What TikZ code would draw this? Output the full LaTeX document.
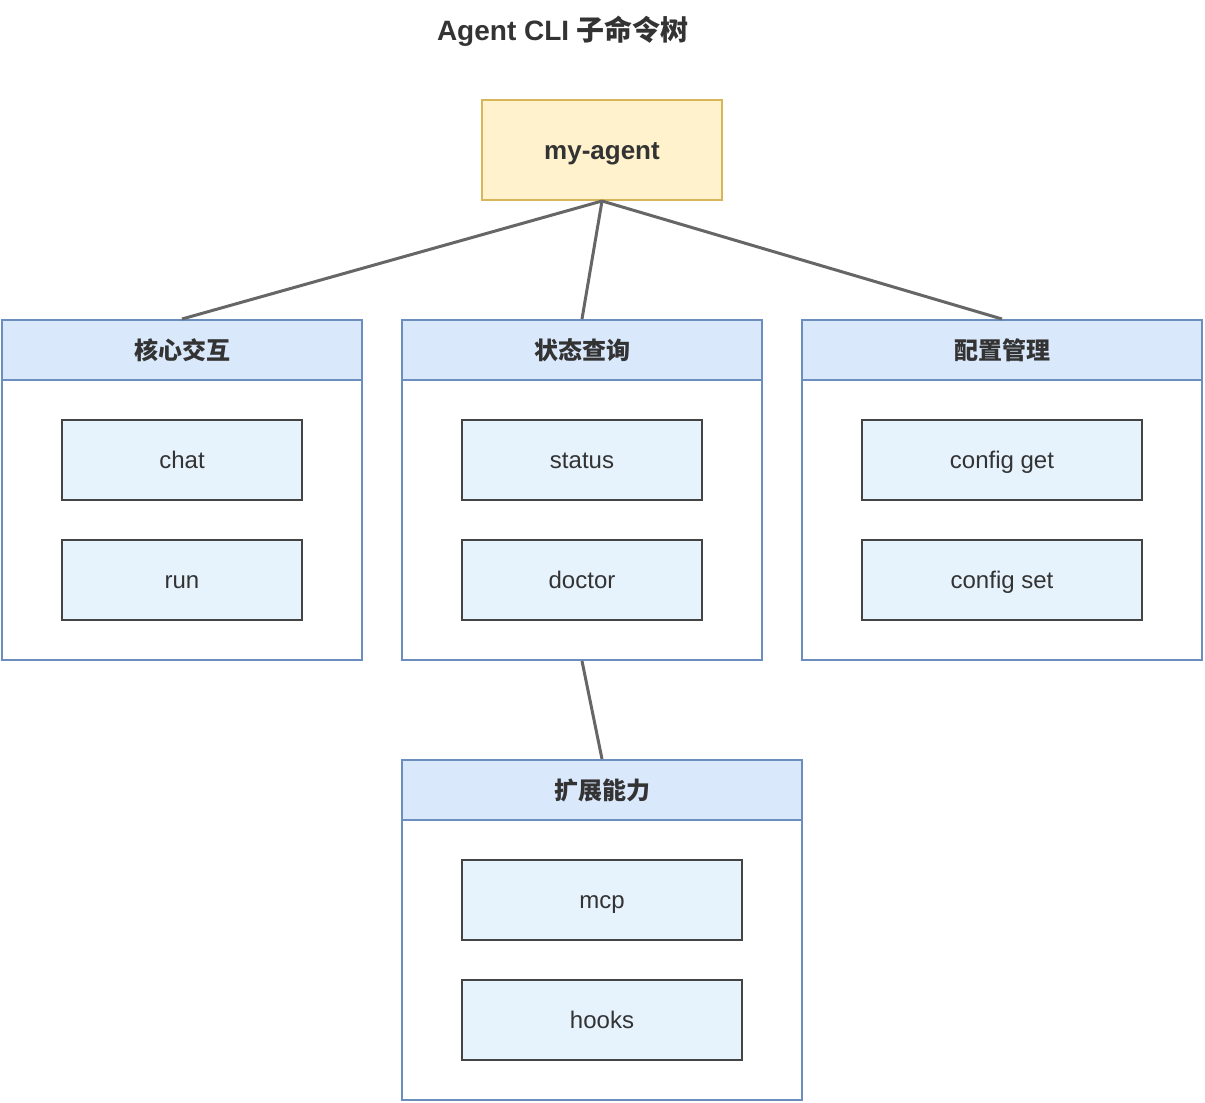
\documentclass[tikz,border=0pt]{standalone}
\usepackage{fontspec}
\setmainfont{Liberation Sans}
\newfontfamily\cjk{Noto Sans CJK SC}
\usetikzlibrary{positioning}
\definecolor{rootfill}{HTML}{FFF2CC}
\definecolor{rootline}{HTML}{D6B656}
\definecolor{lanefill}{HTML}{DAE8FC}
\definecolor{laneline}{HTML}{6C8EBF}
\definecolor{cmdfill}{HTML}{E6F2FC}
\definecolor{cmdline}{HTML}{444444}
\definecolor{edgegray}{HTML}{666666}
\definecolor{txt}{HTML}{333333}

\begin{document}
\begin{tikzpicture}[
  x=1pt, y=-1pt,
  root/.style={draw=rootline, fill=rootfill, line width=2pt, inner sep=0pt,
               minimum width=240pt, minimum height=100pt, text=txt,
               text height=18.5pt, text depth=0pt,
               font=\fontsize{26}{30}\selectfont\bfseries},
  lane/.style={draw=laneline, fill=white, line width=2pt, inner sep=0pt,
               minimum height=340pt},
  lanehead/.style={draw=laneline, fill=lanefill, line width=2pt, inner sep=0pt,
                   minimum height=60pt, text=txt,
                   font=\fontsize{24}{28}\selectfont\cjk\bfseries},
  cmd/.style={draw=cmdline, fill=cmdfill, line width=2.5pt, inner sep=0pt,
              minimum height=80pt, text=txt, text height=17pt, text depth=0pt,
              font=\fontsize{24}{28}\selectfont},
  link/.style={draw=edgegray, line width=3pt},
]
\useasboundingbox (0,0) rectangle (1205,1103);

%% ---- title ----
\node[text=txt, font=\fontsize{28}{32}\selectfont\bfseries] (title) at (563,31)
  {Agent CLI {\cjk 子命令树}};

%% ---- root ----
\node[root] (agent) at (602,150) {my-agent};

%% ---- lane 1: core ----
\node[lane, minimum width=360pt] (core) at (182,490) {};
\node[lanehead, minimum width=360pt] (corehead) at (182,350) {核心交互};
\node[cmd, minimum width=240pt] (chat) at (182,460) {chat};
\node[cmd, minimum width=240pt] (run) at (182,580) {run};

%% ---- lane 2: status ----
\node[lane, minimum width=360pt] (state) at (582,490) {};
\node[lanehead, minimum width=360pt] (statehead) at (582,350) {状态查询};
\node[cmd, minimum width=240pt] (status) at (582,460) {status};
\node[cmd, minimum width=240pt] (doctor) at (582,580) {doctor};

%% ---- lane 3: config ----
\node[lane, minimum width=400pt] (conf) at (1002,490) {};
\node[lanehead, minimum width=400pt] (confhead) at (1002,350) {配置管理};
\node[cmd, minimum width=280pt] (cfgget) at (1002,460) {config get};
\node[cmd, minimum width=280pt] (cfgset) at (1002,580) {config set};

%% ---- lane 4: extensions ----
\node[lane, minimum width=400pt] (ext) at (602,930) {};
\node[lanehead, minimum width=400pt] (exthead) at (602,790) {扩展能力};
\node[cmd, minimum width=280pt] (mcp) at (602,900) {mcp};
\node[cmd, minimum width=280pt] (hooks) at (602,1020) {hooks};

%% ---- tree edges ----
\draw[link] (agent.south) -- (corehead.north);
\draw[link] (agent.south) -- (statehead.north);
\draw[link] (agent.south) -- (confhead.north);
\draw[link] (state.south) -- (exthead.north);

\end{tikzpicture}
\end{document}
